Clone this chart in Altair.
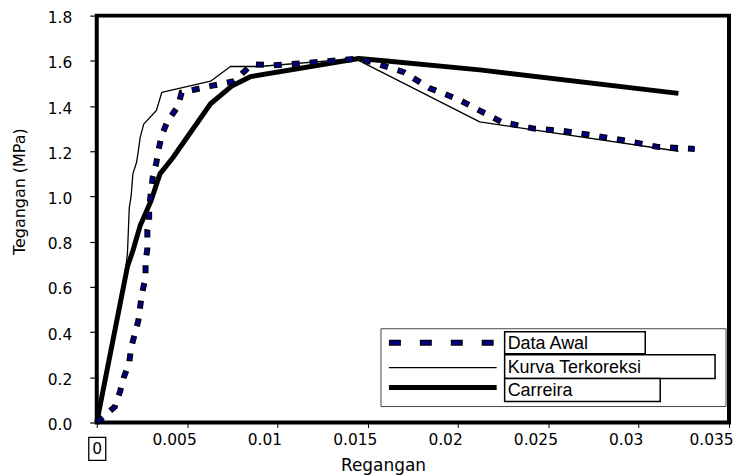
import altair as alt
import pandas as pd

# ---------------- data ----------------
data_awal_x = [0.0, 0.0010, 0.0013, 0.0015, 0.0018, 0.0019, 0.0021, 0.0023, 0.0024, 0.0025,
               0.0027, 0.0027, 0.0028, 0.0028, 0.0029, 0.0029, 0.0030, 0.0031, 0.0033, 0.0034,
               0.0036, 0.0039, 0.0045, 0.0047, 0.0064, 0.0076, 0.0086, 0.0098, 0.0115, 0.0145,
               0.0154, 0.0170, 0.0184, 0.0200, 0.0212, 0.0224, 0.0242, 0.0258, 0.0275, 0.0294,
               0.0310, 0.0331]
data_awal_y = [0.0, 0.07, 0.14, 0.20, 0.265, 0.33, 0.39, 0.45, 0.51, 0.57,
               0.64, 0.71, 0.77, 0.85, 0.89, 0.95, 1.02, 1.085, 1.15, 1.20,
               1.27, 1.33, 1.40, 1.46, 1.49, 1.51, 1.585, 1.58, 1.59, 1.61,
               1.59, 1.55, 1.48, 1.43, 1.38, 1.33, 1.30, 1.29, 1.27, 1.245,
               1.22, 1.21]

kurva_x = [0.0, 0.0016, 0.0017, 0.0018, 0.0019, 0.0020, 0.0022, 0.0023, 0.0024, 0.0026,
           0.0033, 0.0036, 0.0063, 0.0074, 0.0090, 0.0143, 0.0212, 0.0322]
kurva_y = [0.0, 0.68, 0.75, 0.95, 1.00, 1.10, 1.15, 1.20, 1.26, 1.32,
           1.38, 1.46, 1.51, 1.575, 1.575, 1.61, 1.33, 1.20]

carreira_x = [0.0, 0.0017, 0.0020, 0.0024, 0.0030, 0.0035, 0.0042, 0.0063, 0.0075, 0.0085,
              0.0145, 0.0159, 0.0212, 0.0322]
carreira_y = [0.0, 0.69, 0.76, 0.87, 0.98, 1.10, 1.17, 1.41, 1.49, 1.53,
              1.61, 1.60, 1.56, 1.456]

x_ticks = [0, 0.005, 0.01, 0.015, 0.02, 0.025, 0.03, 0.035]
y_ticks = [0.0, 0.2, 0.4, 0.6, 0.8, 1.0, 1.2, 1.4, 1.6, 1.8]

series_names = ["Data Awal", "Kurva Terkoreksi", "Carreira"]
x_title = "Regangan"
y_title = "Tegangan (MPa)"
zero_label = "0"


def frame(xs, ys, name):
    return pd.DataFrame({"x": xs, "y": ys, "i": list(range(len(xs))), "s": name})


df_awal = frame(data_awal_x, data_awal_y, series_names[0])
df_kurva = frame(kurva_x, kurva_y, series_names[1])
df_carr = frame(carreira_x, carreira_y, series_names[2])

AX_FONT = "DejaVu Sans"
LEG_FONT = "Liberation Sans"

xscale = alt.Scale(domain=[0, 0.035], nice=False, zero=False)
yscale = alt.Scale(domain=[0, 1.8], nice=False)

xaxis = alt.Axis(
    values=x_ticks, title=x_title,
    labelExpr="datum.value == 0 ? '' : format(datum.value, '~g')",
    labelOffset={"condition": {"test": "datum.value > 0.034", "value": -18}, "value": -13},
    labelFlush=False, labelOverlap=False,
    tickSize=5, tickColor="black", tickWidth=1, domain=False, grid=False,
    labelFont=AX_FONT, labelFontSize=15.5, labelColor="black", labelPadding=5,
    titleFont=AX_FONT, titleFontSize=17, titleFontWeight="normal", titleColor="black",
    titleX=287, titleY=43, titleBaseline="middle",
)
yaxis = alt.Axis(
    values=y_ticks, format=".1f", title=y_title,
    tickSize=7, tickColor="black", tickWidth=1.2, domain=False, grid=False,
    labelFont=AX_FONT, labelFontSize=15.5, labelColor="black", labelPadding=18,
    labelOffset=2,
    titleFont=AX_FONT, titleFontSize=16, titleFontWeight="normal", titleColor="black",
    titleX=-77, titleY=176, titleBaseline="middle",
)


def line(df, **kw):
    return alt.Chart(df).mark_line(**kw).encode(
        x=alt.X("x:Q", scale=xscale, axis=xaxis),
        y=alt.Y("y:Q", scale=yscale, axis=yaxis),
        order=alt.Order("i:Q"),
    )


kurva_line = line(df_kurva, color="black", strokeWidth=1.3, strokeJoin="round")
carr_line = line(df_carr, color="black", strokeWidth=5, strokeJoin="round")
awal_outer = line(df_awal, color="black", strokeWidth=6, strokeDash=[8, 10], strokeCap="butt")
awal_inner = line(df_awal, color="#000080", strokeWidth=4, strokeDash=[6, 12],
                  strokeDashOffset=17, strokeCap="butt")

one = pd.DataFrame({"a": [0]})

# ---------------- legend (hand-built, boxed labels) ----------------
legend_layers = [
    alt.Chart(one).mark_rect(fill="white", stroke="#444", strokeWidth=1).encode(
        x=alt.value(285), x2=alt.value(631), y=alt.value(314), y2=alt.value(392))
]
rows = [
    # (label, sample y, box x2, box y, box y2)
    (series_names[0], 328, 550, 317, 339),
    (series_names[1], 353, 620, 340, 364),
    (series_names[2], 373, 565, 364, 387),
]
for k, (lab, sy, bx2, by, by2) in enumerate(rows):
    if k == 0:
        legend_layers.append(alt.Chart(one).mark_rule(
            color="black", strokeWidth=6, strokeDash=[12, 19], strokeCap="butt").encode(
            x=alt.value(293), x2=alt.value(401), y=alt.value(sy)))
        legend_layers.append(alt.Chart(one).mark_rule(
            color="#000080", strokeWidth=4, strokeDash=[10, 21], strokeDashOffset=30,
            strokeCap="butt").encode(
            x=alt.value(293), x2=alt.value(401), y=alt.value(sy)))
    else:
        legend_layers.append(alt.Chart(one).mark_rule(
            color="black", strokeWidth=1.3 if k == 1 else 5, strokeCap="butt").encode(
            x=alt.value(293), x2=alt.value(401), y=alt.value(sy)))
    legend_layers.append(alt.Chart(one).mark_rect(
        fill="white", stroke="black", strokeWidth=1.5).encode(
        x=alt.value(409), x2=alt.value(bx2), y=alt.value(by), y2=alt.value(by2)))
    legend_layers.append(alt.Chart(one).mark_text(
        text=lab, font=LEG_FONT, fontSize=18, align="left", baseline="middle",
        color="black").encode(x=alt.value(412), y=alt.value((by + by2) / 2 + 1)))

# boxed "0" under the origin
zero_box = alt.Chart(one).mark_rect(fill="white", stroke="black", strokeWidth=1.3).encode(
    x=alt.value(-8), x2=alt.value(9), y=alt.value(423), y2=alt.value(446))
zero_text = alt.Chart(one).mark_text(
    text=zero_label, font=AX_FONT, fontSize=15.5, align="center", baseline="middle",
    color="black").encode(x=alt.value(0.5), y=alt.value(435))

chart = alt.layer(
    kurva_line, carr_line, awal_outer, awal_inner,
    *legend_layers, zero_box, zero_text,
).properties(
    width=634, height=408,
    padding={"left": 89, "top": 7, "right": 6, "bottom": 52},
    autosize="none",
    background="white",
).configure_view(stroke="black", strokeWidth=4)

chart.save("out.html", embed_options={"renderer": "svg", "actions": False})
